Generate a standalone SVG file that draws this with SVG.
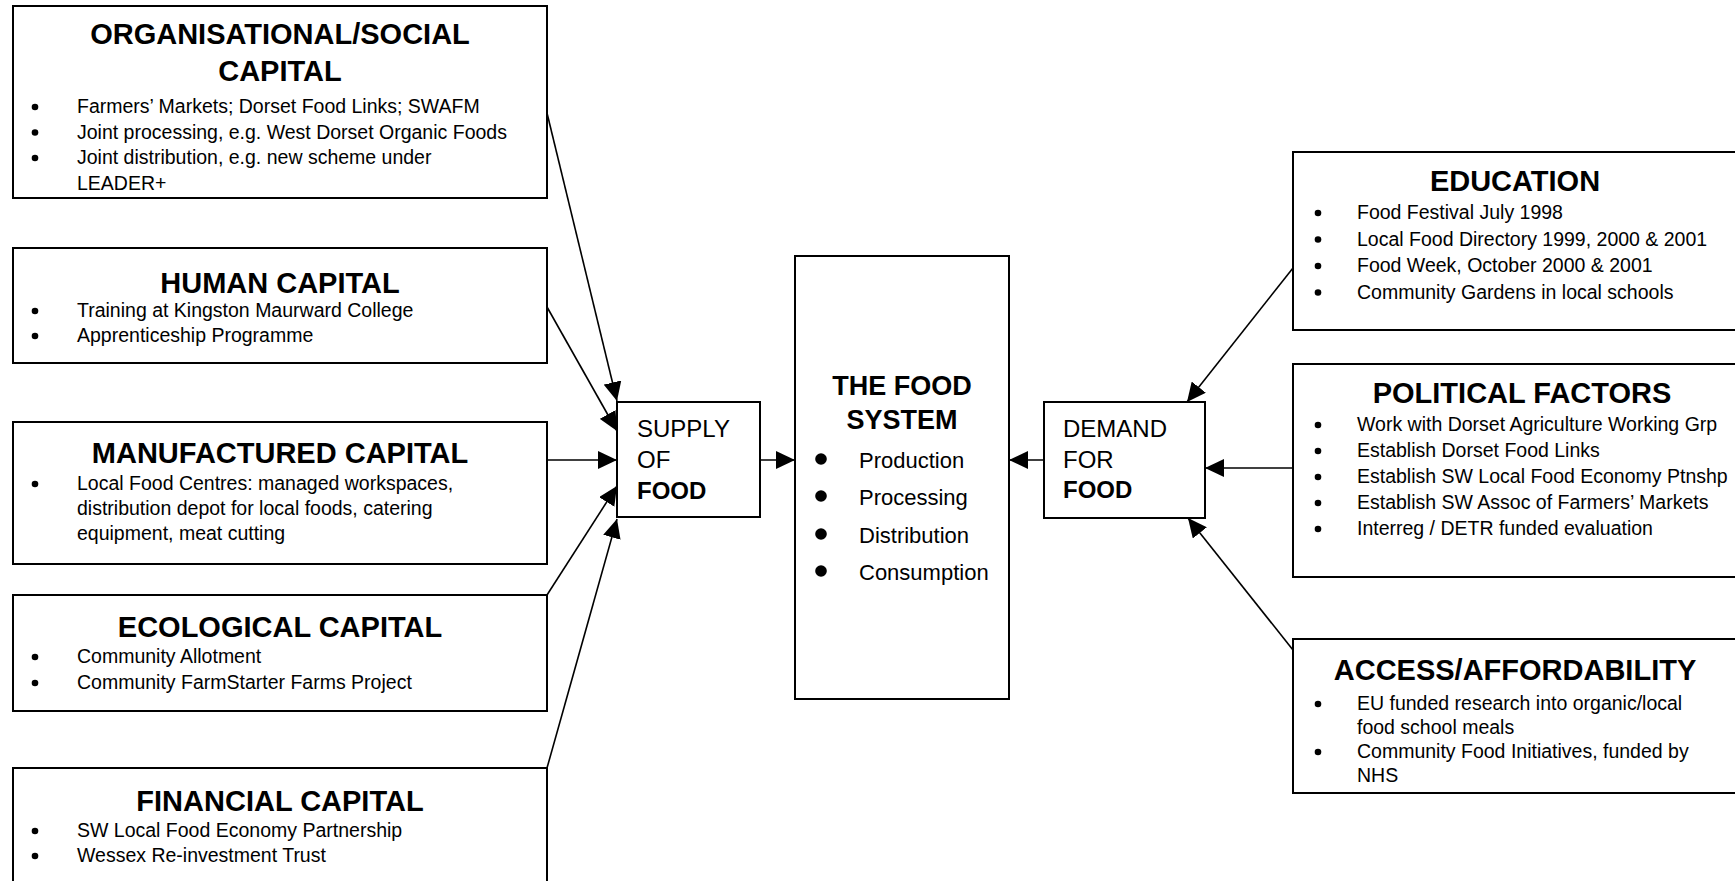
<svg xmlns="http://www.w3.org/2000/svg" width="1735" height="881" viewBox="0 0 1735 881">
<defs>
<style>
.box{fill:#fff;stroke:#000;stroke-width:2}
.h{font-family:"Liberation Sans",Arial,sans-serif;font-weight:bold;font-size:29px;text-anchor:middle;fill:#000}
.t{font-family:"Liberation Sans",Arial,sans-serif;font-size:19.5px;fill:#000}
.m{font-family:"Liberation Sans",Arial,sans-serif;font-size:24px;fill:#000}
.st{font-family:"Liberation Sans",Arial,sans-serif;font-size:22px;fill:#000}
.sh{font-family:"Liberation Sans",Arial,sans-serif;font-weight:bold;font-size:27px;text-anchor:middle;fill:#000}
.b{font-weight:bold}
.d{fill:#000}
.c{stroke:#000;stroke-width:1.6;fill:none;marker-end:url(#ah)}
</style>
<marker id="ah" markerUnits="userSpaceOnUse" markerWidth="20" markerHeight="18" refX="19" refY="9" orient="auto">
<path d="M0,0 L19,9 L0,18 z" fill="#000"/>
</marker>
</defs>
<rect width="1735" height="881" fill="#fff"/>

<g id="connectors">
<line class="c" x1="547" y1="113" x2="617" y2="401"/>
<line class="c" x1="547" y1="307" x2="617" y2="431"/>
<line class="c" x1="547" y1="460" x2="617" y2="460"/>
<line class="c" x1="547" y1="595" x2="617" y2="486"/>
<line class="c" x1="547" y1="768" x2="617" y2="519"/>
<line class="c" x1="760" y1="460" x2="795" y2="460"/>
<line class="c" x1="1044" y1="460" x2="1009" y2="460"/>
<line class="c" x1="1293" y1="268" x2="1187" y2="402"/>
<line class="c" x1="1293" y1="468" x2="1205" y2="468"/>
<line class="c" x1="1293" y1="650" x2="1188" y2="518"/>
</g>

<g id="organisational">
<rect class="box" x="13" y="6" width="534" height="192"/>
<text class="h" x="280" y="44">ORGANISATIONAL/SOCIAL</text>
<text class="h" x="280" y="81">CAPITAL</text>
<circle class="d" cx="35" cy="107" r="3.3"/><text class="t" x="77" y="113">Farmers’ Markets; Dorset Food Links; SWAFM</text>
<circle class="d" cx="35" cy="132.5" r="3.3"/><text class="t" x="77" y="138.5">Joint processing, e.g. West Dorset Organic Foods</text>
<circle class="d" cx="35" cy="158" r="3.3"/><text class="t" x="77" y="164">Joint distribution, e.g. new scheme under</text>
<text class="t" x="77" y="189.5">LEADER+</text>
</g>

<g id="human">
<rect class="box" x="13" y="248" width="534" height="115"/>
<text class="h" x="280" y="293">HUMAN CAPITAL</text>
<circle class="d" cx="35" cy="311" r="3.3"/><text class="t" x="77" y="317">Training at Kingston Maurward College</text>
<circle class="d" cx="35" cy="336" r="3.3"/><text class="t" x="77" y="342">Apprenticeship Programme</text>
</g>

<g id="manufactured">
<rect class="box" x="13" y="422" width="534" height="142"/>
<text class="h" x="280" y="463">MANUFACTURED CAPITAL</text>
<circle class="d" cx="35" cy="484" r="3.3"/><text class="t" x="77" y="490">Local Food Centres: managed workspaces,</text>
<text class="t" x="77" y="515">distribution depot for local foods, catering</text>
<text class="t" x="77" y="540">equipment, meat cutting</text>
</g>

<g id="ecological">
<rect class="box" x="13" y="595" width="534" height="116"/>
<text class="h" x="280" y="637">ECOLOGICAL CAPITAL</text>
<circle class="d" cx="35" cy="657" r="3.3"/><text class="t" x="77" y="663">Community Allotment</text>
<circle class="d" cx="35" cy="683" r="3.3"/><text class="t" x="77" y="689">Community FarmStarter Farms Project</text>
</g>

<g id="financial">
<rect class="box" x="13" y="768" width="534" height="130"/>
<text class="h" x="280" y="811">FINANCIAL CAPITAL</text>
<circle class="d" cx="35" cy="831" r="3.3"/><text class="t" x="77" y="837">SW Local Food Economy Partnership</text>
<circle class="d" cx="35" cy="856" r="3.3"/><text class="t" x="77" y="862">Wessex Re-investment Trust</text>
</g>

<g id="supply">
<rect class="box" x="617" y="402" width="143" height="115"/>
<text class="m" x="637" y="437">SUPPLY</text>
<text class="m" x="637" y="468">OF</text>
<text class="m b" x="637" y="499">FOOD</text>
</g>

<g id="food-system">
<rect class="box" x="795" y="256" width="214" height="443"/>
<text class="sh" x="902" y="395">THE FOOD</text>
<text class="sh" x="902" y="429">SYSTEM</text>
<circle class="d" cx="821" cy="459" r="5.8"/><text class="st" x="859" y="468">Production</text>
<circle class="d" cx="821" cy="496" r="5.8"/><text class="st" x="859" y="505">Processing</text>
<circle class="d" cx="821" cy="534" r="5.8"/><text class="st" x="859" y="543">Distribution</text>
<circle class="d" cx="821" cy="571" r="5.8"/><text class="st" x="859" y="580">Consumption</text>
</g>

<g id="demand">
<rect class="box" x="1044" y="402" width="161" height="116"/>
<text class="m" x="1063" y="437">DEMAND</text>
<text class="m" x="1063" y="468">FOR</text>
<text class="m b" x="1063" y="498">FOOD</text>
</g>

<g id="education">
<rect class="box" x="1293" y="152" width="460" height="178"/>
<text class="h" x="1515" y="191">EDUCATION</text>
<circle class="d" cx="1318" cy="213" r="3.3"/><text class="t" x="1357" y="219">Food Festival July 1998</text>
<circle class="d" cx="1318" cy="239.5" r="3.3"/><text class="t" x="1357" y="245.5">Local Food Directory 1999, 2000 &amp; 2001</text>
<circle class="d" cx="1318" cy="266" r="3.3"/><text class="t" x="1357" y="272">Food Week, October 2000 &amp; 2001</text>
<circle class="d" cx="1318" cy="292.5" r="3.3"/><text class="t" x="1357" y="298.5">Community Gardens in local schools</text>
</g>

<g id="political">
<rect class="box" x="1293" y="364" width="460" height="213"/>
<text class="h" x="1522" y="403">POLITICAL FACTORS</text>
<circle class="d" cx="1318" cy="425" r="3.3"/><text class="t" x="1357" y="431">Work with Dorset Agriculture Working Grp</text>
<circle class="d" cx="1318" cy="451" r="3.3"/><text class="t" x="1357" y="457">Establish Dorset Food Links</text>
<circle class="d" cx="1318" cy="477" r="3.3"/><text class="t" x="1357" y="483">Establish SW Local Food Economy Ptnshp</text>
<circle class="d" cx="1318" cy="503" r="3.3"/><text class="t" x="1357" y="509">Establish SW Assoc of Farmers’ Markets</text>
<circle class="d" cx="1318" cy="529" r="3.3"/><text class="t" x="1357" y="535">Interreg / DETR funded evaluation</text>
</g>

<g id="access">
<rect class="box" x="1293" y="639" width="460" height="154"/>
<text class="h" x="1515" y="680">ACCESS/AFFORDABILITY</text>
<circle class="d" cx="1318" cy="704" r="3.3"/><text class="t" x="1357" y="710">EU funded research into organic/local</text>
<text class="t" x="1357" y="734">food school meals</text>
<circle class="d" cx="1318" cy="752" r="3.3"/><text class="t" x="1357" y="758">Community Food Initiatives, funded by</text>
<text class="t" x="1357" y="782">NHS</text>
</g>
</svg>
